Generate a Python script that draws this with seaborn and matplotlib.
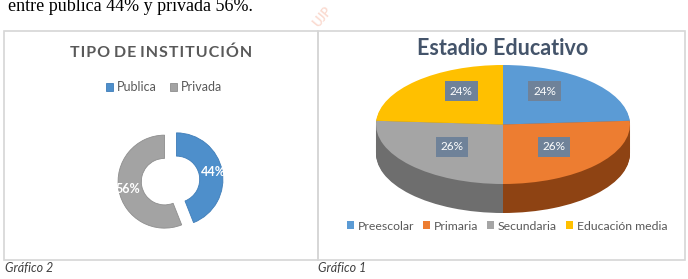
import numpy as np
import matplotlib
matplotlib.use("Agg")
import matplotlib.pyplot as plt
from matplotlib.patches import Rectangle
import seaborn as sns

# data
inst_labels = ["Publica", "Privada"]
inst_values = [44, 56]
estadio_labels = ["Preescolar", "Primaria", "Secundaria", "Educación media"]
estadio_values = [24, 26, 26, 24]

sns.set_theme(style="white")
plt.rcParams["font.family"] = ["Lato", "DejaVu Sans"]

W, H = 688, 279
fig = plt.figure(figsize=(W / 100, H / 100), dpi=100)
fig.patch.set_facecolor("white")


def px_axes(x0, y0, x1, y1):
    # axes placed with pixel coords, origin top-left
    return fig.add_axes([x0 / W, 1 - y1 / H, (x1 - x0) / W, (y1 - y0) / H])


def fx(x):
    return x / W


def fy(y):
    return 1 - y / H


# document text above the table
fig.text(fx(8), fy(11), "entre publica 44% y privada 56%.", family="Liberation Serif",
         fontsize=13, color="black", va="baseline", ha="left")
fig.text(fx(322), fy(17), "UJP", fontsize=9, color="#F4A48A", alpha=0.4,
         rotation=50, ha="center", va="center", fontweight="bold")

# table cells
for x0, x1 in [(4, 318), (318, 685)]:
    fig.patches.append(Rectangle((fx(x0), fy(260)), fx(x1 - x0), (260 - 31) / H,
                                 transform=fig.transFigure, fill=False,
                                 edgecolor="#D6D6D6", linewidth=1.2))

# ---- donut: tipo de institucion ----
inst_colors = sns.color_palette(["#4E8FCB", "#A3A3A3"])
cx, cy, r = 170.5, 180.5, 46.5
span = 1.4
ax1 = px_axes(cx - span * r, cy - span * r, cx + span * r, cy + span * r)
wedges1, _, auto1 = ax1.pie(inst_values, colors=inst_colors, startangle=90, counterclock=False,
                            explode=[0.13, 0.13], autopct="%1.0f%%", pctdistance=0.8,
                            wedgeprops=dict(width=0.5, edgecolor="#8E8E8E", linewidth=0.6),
                            textprops=dict(color="white", fontsize=9, fontweight="bold"))
wedges1[0].set_edgecolor("#3F7DB8")
ax1.set_xlim(-span, span)
ax1.set_ylim(-span, span)
ax1.set_aspect("auto")
ax1.axis("off")

title1 = " ".join("\u200a".join(w) for w in "TIPO DE INSTITUCIÓN".split())
fig.text(fx(161), fy(53), title1, ha="center", va="center", fontsize=11.5,
         fontweight="bold", color="#595959")
fig.legend(wedges1, inst_labels, loc="center", bbox_to_anchor=(fx(164), fy(87)), ncol=2,
           frameon=False, fontsize=9, handlelength=0.6, handleheight=0.6,
           handletextpad=0.3, columnspacing=1.0, labelcolor="#595959")

# ---- 3D-looking pie: estadio educativo ----
top_colors = sns.color_palette(["#5B9BD5", "#ED7D31", "#A5A5A5", "#FFC000"])
side_colors = sns.color_palette(["#3F74A6", "#8E4313", "#6E6E6E", "#BF9000"])
pcx, pcy, a, b = 503, 124.5, 127, 59.5
depth = 29 / b
ax2 = px_axes(pcx - 1.1 * a, pcy - 1.1 * b, pcx + 1.1 * a, pcy + 1.7 * b)
for d in np.linspace(depth, 0.02, 30):
    ax2.pie(estadio_values, colors=side_colors, startangle=90, counterclock=False,
            center=(0, -d), wedgeprops=dict(linewidth=0))
wedges2, _, auto2 = ax2.pie(estadio_values, colors=top_colors, startangle=90, counterclock=False,
                            autopct="%1.0f%%", pctdistance=0.55,
                            wedgeprops=dict(linewidth=0),
                            textprops=dict(color="white", fontsize=8.5))
for t in auto2:
    x, y = t.get_position()
    if y > 0:
        t.set_position((x * 0.87, y + 0.16))
    t.set_bbox(dict(boxstyle="square,pad=0.4", facecolor="#6F8299", edgecolor="none"))
ax2.set_xlim(-1.1, 1.1)
ax2.set_ylim(-1.7, 1.1)
ax2.set_aspect("auto")
ax2.axis("off")

fig.text(fx(503), fy(48), "Estadio Educativo", ha="center", va="center",
         fontsize=15.5, fontweight="bold", color="#44546A")
fig.legend(wedges2, estadio_labels, loc="center", bbox_to_anchor=(fx(507), fy(226)), ncol=4,
           frameon=False, fontsize=8.8, handlelength=0.6, handleheight=0.6,
           handletextpad=0.3, columnspacing=0.7, labelcolor="#595959")

# captions
fig.text(fx(5), fy(268), "Gráfico 2", ha="left", va="center", fontsize=9,
         style="italic", color="#404040")
fig.text(fx(318), fy(268), "Gráfico 1", ha="left", va="center", fontsize=9,
         style="italic", color="#404040")

fig.savefig("out.png", dpi=100)
